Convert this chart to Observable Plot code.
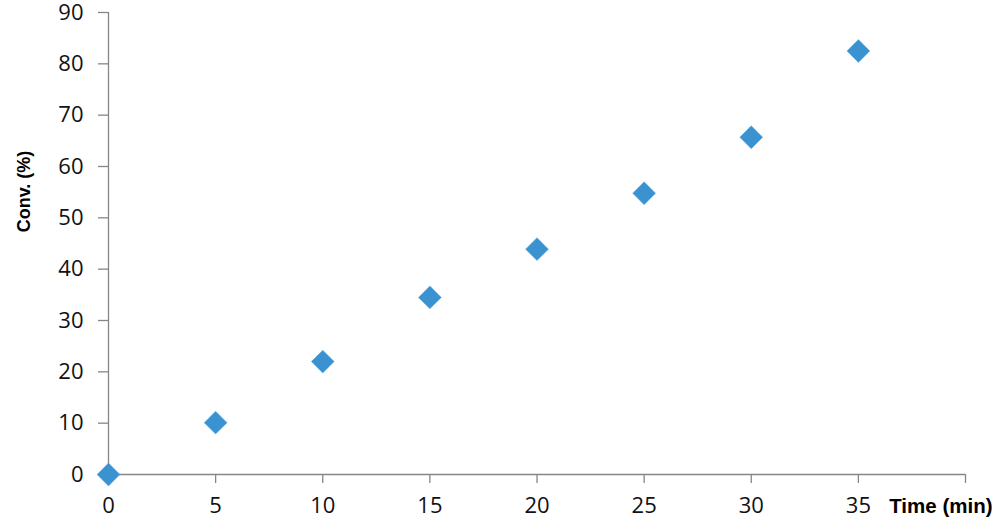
<!DOCTYPE html>
<html>
<head>
<meta charset="utf-8">
<script src="https://cdn.jsdelivr.net/npm/d3@7"></script>
<script src="https://cdn.jsdelivr.net/npm/@observablehq/plot@0.6"></script>
<style>
  html, body { margin: 0; padding: 0; background: #fff; }
  #chart svg { display: block; overflow: visible; }
</style>
</head>
<body>
<div id="chart"></div>
<script>
const times = [0, 5, 10, 15, 20, 25, 30, 35];
const conversions = [0, 10.1, 22.0, 34.5, 43.9, 54.8, 65.7, 82.5];
const xTicks = [0, 5, 10, 15, 20, 25, 30, 35, 40];
const xTickLabels = ["0", "5", "10", "15", "20", "25", "30", "35", ""];
const yTicks = [0, 10, 20, 30, 40, 50, 60, 70, 80, 90];
const xLabel = "Time (min)";
const yLabel = "Conv. (%)";

const data = times.map((t, i) => ({time: t, conv: conversions[i]}));
const axisColor = "#868686";
const font = "'Open Sans', sans-serif";
const labelFont = "'Liberation Sans', Arial, sans-serif";

const chart = Plot.plot({
  width: 1000,
  height: 529,
  marginLeft: 108,
  marginRight: 35,
  marginTop: 12,
  marginBottom: 55,
  style: {fontFamily: font, fontSize: "22px", color: "#000", background: "#fff", overflow: "visible"},
  x: {domain: [0, 40]},
  y: {domain: [0, 90]},
  marks: [
    Plot.ruleX([0], {stroke: axisColor, strokeWidth: 1.3}),
    Plot.ruleY([0], {stroke: axisColor, strokeWidth: 1.3}),
    Plot.axisX({
      ticks: xTicks,
      tickFormat: (d) => xTickLabels[xTicks.indexOf(d)],
      tickSize: 9,
      tickPadding: 14,
      stroke: axisColor,
      strokeWidth: 1.3,
      fill: "#111",
      fontSize: 22,
      label: null
    }),
    Plot.axisY({
      ticks: yTicks,
      tickSize: 10,
      tickPadding: 15,
      stroke: axisColor,
      strokeWidth: 1.3,
      fill: "#111",
      fontSize: 22,
      label: null
    }),
    Plot.text([yLabel], {
      frameAnchor: "left",
      textAnchor: "middle",
      lineAnchor: "middle",
      rotate: -90,
      dx: -84,
      dy: -52,
      fontSize: 18,
      fontWeight: "bold",
      fill: "#000",
      fontFamily: labelFont
    }),
    Plot.text([xLabel], {
      frameAnchor: "bottom-right",
      textAnchor: "end",
      lineAnchor: "middle",
      dx: 27,
      dy: 31.5,
      fontSize: 20.5,
      fontWeight: "bold",
      fill: "#000",
      fontFamily: labelFont
    }),
    Plot.dot(data, {
      x: "time",
      y: "conv",
      symbol: "diamond2",
      r: 10.3,
      fill: "#3a93d0",
      stroke: "#5aa6da",
      strokeWidth: 0.5
    })
  ]
});
document.getElementById("chart").appendChild(chart);
</script>
</body>
</html>
